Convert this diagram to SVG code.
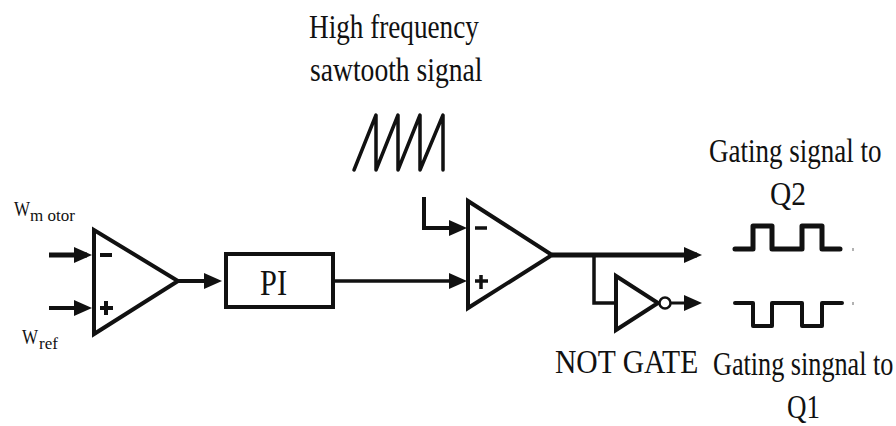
<svg xmlns="http://www.w3.org/2000/svg" width="896" height="426" viewBox="0 0 896 426">
<style>
text{font-family:"Liberation Serif","Times New Roman",serif;fill:#111}
.l{fill:none;stroke:#111;stroke-linejoin:miter}
.w{fill:none;stroke:#111;stroke-linejoin:round;stroke-linecap:round}
.s{fill:#fff;stroke:#111;stroke-width:4}
.m{font-size:17px}
</style>
<defs>
<marker id="a" markerUnits="userSpaceOnUse" markerWidth="22" markerHeight="20" refX="14" refY="10" orient="auto"><path d="M1 2L19 10L1 18Z" fill="#111"/></marker>
</defs>
<rect width="896" height="426" fill="#fff"/>
<g id="connectors">
<path class="l" stroke-width="5" d="M49 255H87" marker-end="url(#a)"/>
<path class="l" stroke-width="4" d="M49 308H87" marker-end="url(#a)"/>
<path class="l" stroke-width="4" d="M178 281H217" marker-end="url(#a)"/>
<path class="l" stroke-width="3.5" d="M333 281H462" marker-end="url(#a)"/>
<path class="l" stroke-width="4" d="M424 197V228H462" marker-end="url(#a)"/>
<path class="l" stroke-width="5" d="M552 255H697" marker-end="url(#a)"/>
<path class="l" stroke-width="3.5" d="M594 255V303H616"/>
<path class="l" stroke-width="3" d="M670 303H697" marker-end="url(#a)"/>
</g>
<g id="comparator1">
<path class="s" d="M94 230V334L178 281Z"/>
<path class="l" stroke-width="4" d="M100 255H112M100 308H113M106 301V315"/>
</g>
<g id="pi"><rect class="s" x="226" y="254" width="107" height="53" stroke-width="5"/>
<text transform="translate(260 295) scale(1 1.18)" font-size="30.4">PI</text></g>
<g id="comparator2">
<path class="s" d="M468 201V308L552 255Z"/>
<path class="l" stroke-width="3.5" d="M475 228H487M475 281H488M481 275V289"/>
</g>
<g id="not-gate">
<path class="s" d="M616 276V330L658 303Z"/>
<circle cx="665" cy="303" r="5.5" fill="#fff" stroke="#111" stroke-width="2.5"/>
</g>
<g id="sawtooth"><path class="w" stroke-width="3.5" d="M354 170L376 115V170L398 115V170L420 115V170L443 115V170"/></g>
<g id="wave-q2"><path class="w" stroke-width="5" d="M735 249H753V226H772V249H802V226H822V249H840"/></g>
<g id="wave-q1"><path class="w" stroke-width="4" d="M735 303H753V326H772V303H802V326H822V303H842"/></g>
<g id="labels">
<text transform="translate(309 38) scale(1 1.25)" font-size="27.2">High frequency</text>
<text transform="translate(310 81) scale(1 1.25)" font-size="27.6">sawtooth signal</text>
<text transform="translate(709 162) scale(1 1.25)" font-size="27">Gating signal to</text>
<text transform="translate(770 205) scale(1 1.15)" font-size="29.5">Q2</text>
<text transform="translate(555 373) scale(1 1.15)" font-size="29.6">NOT GATE</text>
<text transform="translate(713 375) scale(1 1.28)" font-size="26.2">Gating singnal to</text>
<text transform="translate(787 418) scale(1 1.25)" font-size="27">Q1</text>
<text transform="translate(14 216) scale(1 1.18)" class="m">W</text>
<text x="30" y="221" class="m">m otor</text>
<text transform="translate(22 344) scale(1 1.18)" class="m">W</text>
<text x="39" y="349" class="m">ref</text>
<path d="M853 248v3M853 302v3" stroke="#999" stroke-width="1.5" fill="none"/>
</g>
</svg>
